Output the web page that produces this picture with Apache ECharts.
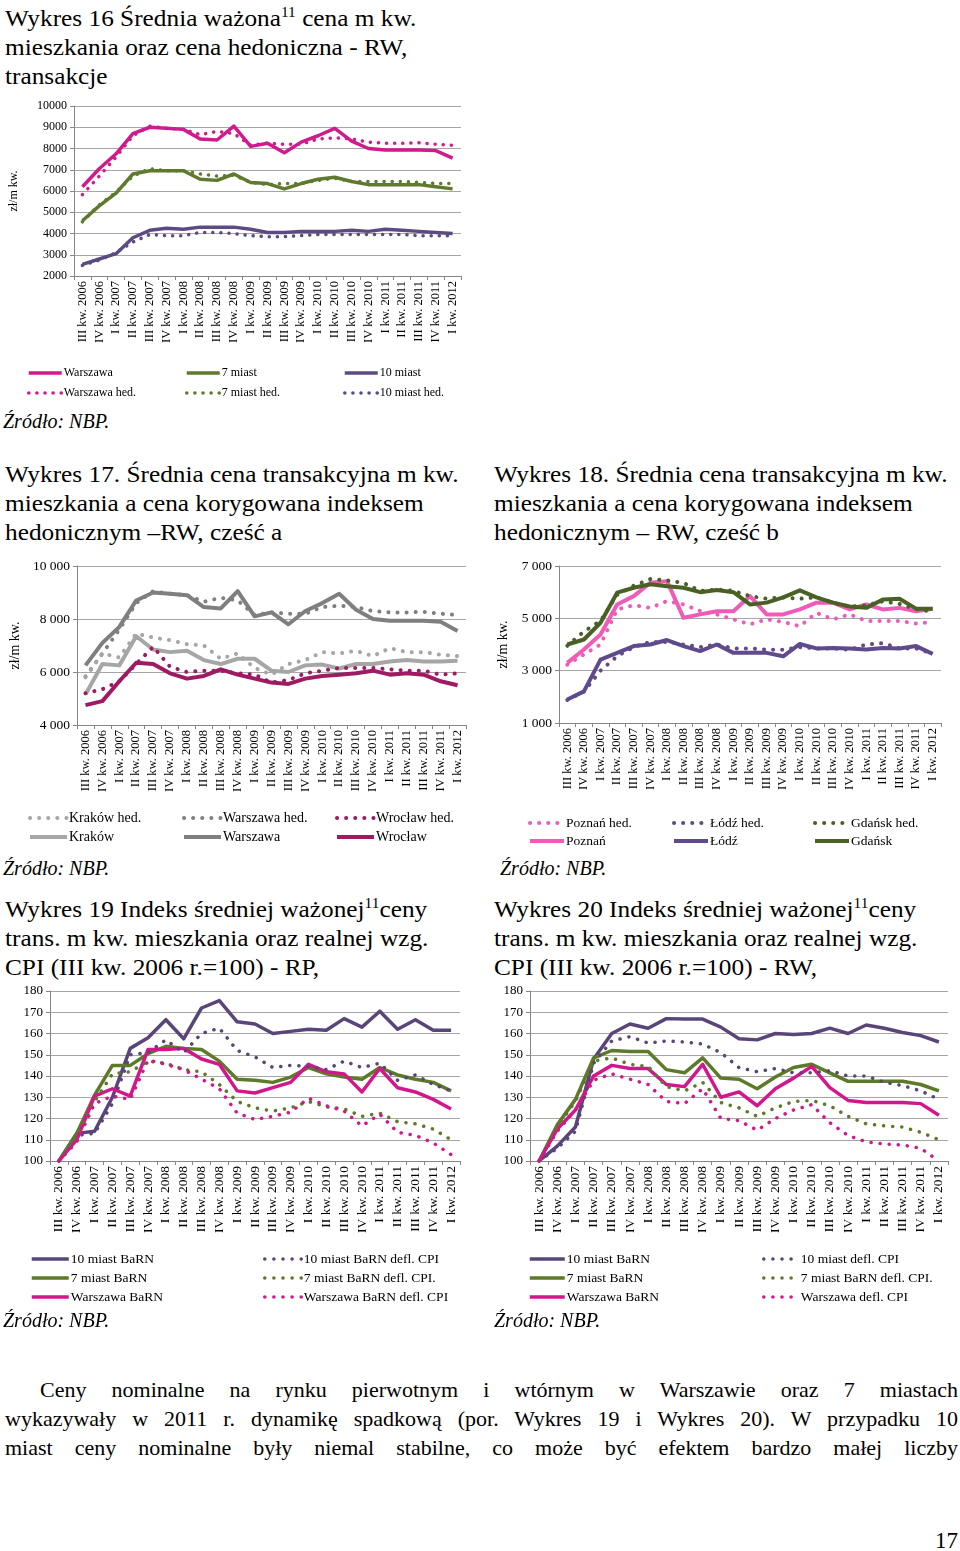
<!DOCTYPE html>
<html>
<head>
<meta charset="utf-8">
<script src="https://cdn.jsdelivr.net/npm/echarts@6/dist/echarts.min.js"></script>
<style>
  html, body { margin: 0; padding: 0; background: #fff; }
  body { width: 960px; height: 1551px; position: relative; overflow: hidden; font-family: 'Liberation Serif', 'Times New Roman', serif; color: #000; }
  .title { position: absolute; font-size: 23px; line-height: 29px; white-space: nowrap; transform: scaleX(1.1); transform-origin: left top; }
  .title sup { font-size: 14px; vertical-align: 9px; line-height: 0; }
  .src { position: absolute; font-size: 20px; font-style: italic; line-height: 24px; white-space: nowrap; }
  .chart { position: absolute; }
  .body { position: absolute; left: 5px; width: 953px; font-size: 22px; line-height: 29px; }
  .body div { text-align: justify; text-align-last: justify; white-space: nowrap; }
  .pg { position: absolute; right: 2px; top: 1527px; font-size: 23px; line-height: 28px; }
</style>
</head>
<body>
<div class="title" style="left:5px; top:4px;">Wykres 16 Średnia ważona<sup>11</sup> cena m kw.<br>mieszkania oraz cena hedoniczna - RW,<br>transakcje</div>
<div class="chart" id="c16" style="left:0; top:95px; width:475px; height:310px;"></div>
<div class="src" style="left:3px; top:409px;">Źródło: NBP.</div>

<div class="title" style="left:5px; top:460px;">Wykres 17. Średnia cena transakcyjna m kw.<br>mieszkania a cena korygowana indeksem<br>hedonicznym –RW, cześć a</div>
<div class="title" style="left:494px; top:460px;">Wykres 18. Średnia cena transakcyjna m kw.<br>mieszkania a cena korygowana indeksem<br>hedonicznym – RW, cześć b</div>
<div class="chart" id="c17" style="left:0; top:550px; width:475px; height:300px;"></div>
<div class="chart" id="c18" style="left:480px; top:550px; width:480px; height:300px;"></div>
<div class="src" style="left:3px; top:856px;">Źródło: NBP.</div>
<div class="src" style="left:500px; top:856px;">Źródło: NBP.</div>

<div class="title" style="left:5px; top:895px;">Wykres 19 Indeks średniej ważonej<sup>11</sup>ceny<br>trans. m kw. mieszkania oraz realnej wzg.<br>CPI (III kw. 2006 r.=100) - RP,</div>
<div class="title" style="left:494px; top:895px;">Wykres 20 Indeks średniej ważonej<sup>11</sup>ceny<br>trans. m kw. mieszkania oraz realnej wzg.<br>CPI (III kw. 2006 r.=100) - RW,</div>
<div class="chart" id="c19" style="left:0; top:980px; width:475px; height:330px;"></div>
<div class="chart" id="c20" style="left:480px; top:980px; width:480px; height:330px;"></div>
<div class="src" style="left:3px; top:1308px;">Źródło: NBP.</div>
<div class="src" style="left:494px; top:1308px;">Źródło: NBP.</div>

<div class="body" style="top:1375px;">
  <div style="padding-left:35px;">Ceny nominalne na rynku pierwotnym i wtórnym w Warszawie oraz 7 miastach</div>
  <div>wykazywały w 2011 r. dynamikę spadkową (por. Wykres 19 i Wykres 20). W przypadku 10</div>
  <div>miast ceny nominalne były niemal stabilne, co może być efektem bardzo małej liczby</div>
</div>
<div class="pg">17</div>

<script>
// ---------- categories ----------
const quarters = ['III kw. 2006','IV kw. 2006','I kw. 2007','II kw. 2007','III kw. 2007','IV kw. 2007',
  'I kw. 2008','II kw. 2008','III kw. 2008','IV kw. 2008','I kw. 2009','II kw. 2009','III kw. 2009','IV kw. 2009',
  'I kw. 2010','II kw. 2010','III kw. 2010','IV kw. 2010','I kw. 2011','II kw. 2011','III kw. 2011','IV kw. 2011','I kw. 2012'];

// ---------- Wykres 16 (zł/m kw.) ----------
const w16_warszawa    = [6200,7050,7750,8700,9000,8950,8900,8450,8400,9050,8100,8250,7800,8300,8600,8950,8350,8000,7930,7930,7930,7900,7550];
const w16_warszawaHed = [5830,6700,7600,8600,9050,8950,8900,8650,8800,8700,8150,8250,8200,8200,8450,8500,8450,8300,8250,8250,8270,8200,8150];
const w16_7miast      = [4600,5300,5900,6800,6950,6950,6950,6550,6500,6800,6400,6350,6100,6350,6550,6650,6450,6300,6300,6300,6300,6200,6100];
const w16_7miastHed   = [4550,5350,5950,6700,7050,6950,6950,6800,6700,6750,6400,6300,6350,6350,6500,6600,6450,6450,6450,6450,6400,6350,6350];
const w16_10miast     = [2550,2800,3050,3800,4150,4250,4200,4300,4300,4300,4200,4050,4050,4100,4100,4100,4150,4100,4200,4150,4100,4050,4000];
const w16_10miastHed  = [2500,2750,3100,3600,3950,3900,3900,4050,4050,4000,3900,3850,3850,3900,3950,3950,3950,3950,3950,3950,3900,3900,3900];
const w16_ticks = {min: 2000, max: 10000, interval: 1000};

// ---------- Wykres 17 ----------
const w17_krakowHed   = [5800,6700,6550,7450,7300,7200,7050,7000,6500,6700,6150,5900,6300,6450,6750,6700,6800,6600,6900,6750,6750,6650,6600];
const w17_krakow      = [5150,6300,6250,7350,6850,6750,6800,6450,6300,6500,6500,6050,6000,6250,6280,6130,6300,6300,6400,6450,6400,6400,6420];
const w17_warszawaHed = [5830,6700,7600,8600,9050,8950,8900,8650,8800,8700,8150,8250,8200,8200,8450,8500,8450,8300,8250,8250,8270,8200,8150];
const w17_warszawa    = [6250,7100,7700,8700,9000,8950,8900,8450,8400,9050,8100,8250,7800,8300,8600,8950,8350,8000,7930,7930,7930,7900,7550];
const w17_wroclawHed  = [5200,5350,5650,6300,6950,6200,6000,6050,6050,5950,5900,5600,5700,5950,6050,6150,6150,6150,6100,6050,6050,5900,5950];
const w17_wroclaw     = [4750,4900,5650,6350,6300,5950,5750,5850,6100,5900,5750,5600,5550,5750,5850,5900,5950,6050,5900,5950,5900,5650,5500];
const w17_ticks = {min: 4000, max: 10000, interval: 2000};

// ---------- Wykres 18 ----------
const w18_poznanHed   = [3230,3620,4000,5340,5500,5400,5660,5530,5280,5150,4960,4770,4960,4860,4700,5210,4960,5150,4900,4900,4900,4800,4860];
const w18_poznan      = [3300,3810,4380,5530,5850,6360,6420,5020,5150,5270,5270,5850,5150,5150,5340,5600,5600,5340,5530,5340,5400,5270,5370];
const w18_lodzHed     = [1880,2200,3000,3550,3900,4100,4100,4000,3900,4000,3850,3850,3800,3800,3900,3850,3850,3800,4000,4050,3850,3850,3650];
const w18_lodz        = [1900,2210,3420,3680,3940,4000,4170,3940,3750,4000,3680,3680,3680,3550,4020,3850,3870,3850,3810,3870,3850,3940,3640];
const w18_gdanskHed   = [3950,4500,4900,5900,6250,6500,6450,6350,6050,6100,6050,5850,5750,5800,5750,5800,5600,5450,5500,5650,5550,5350,5250];
const w18_gdansk      = [4000,4190,4830,5980,6170,6300,6230,6170,6000,6080,6000,5530,5600,5800,6070,5800,5600,5450,5400,5720,5750,5370,5370];
const w18_ticks = {min: 1000, max: 7000, interval: 2000};

// ---------- Wykres 19 (index) ----------
const w19_10miast     = [100,113,114,130,153,158,166.5,157.5,172,175.5,165.5,164.5,160,161,162,161.5,167,163,170.5,162,166.5,161.5,161.5];
const w19_7miast      = [100,113,131,145,145,150.5,154,153,152.5,147,138.5,138,137,139.5,144,141,139.5,138.5,144,140.5,138.5,137,133];
const w19_warszawa    = [100,110,130.5,134,130.5,152.5,152.5,153,148,145.5,133,132,134.5,137,145.5,142,141,132.5,143.5,134.5,132.5,129,124.5];
const w19_10miastCPI  = [100,112,113,127,150,151,157,151,160,162.5,152,149,144,145,144.5,143,147,144,146,138,140.5,136,133];
const w19_7miastCPI   = [100,112,128,141,142,147,146,143,142,136,128,125,123.5,125,128,125.5,124.5,121,122.5,118.5,117.5,115,110];
const w19_warszawaCPI = [100,109,127,130.5,129,147.5,145.5,143,138.5,134,122.5,119.5,121,123,129.5,126,123.5,116.5,122,113.5,112,108.5,103];

// ---------- Wykres 20 (index) ----------
const w20_10miast     = [100,107,116,148,160,164.5,162.5,167,166.8,166.8,163,157.5,157,160,159.5,160,162.5,160,164,162.5,160.5,159,156];
const w20_7miast      = [100,117,129,148.5,152,151.5,151.5,143,141.5,148.5,139,138.5,134,139.5,144,145.5,141.5,137.5,137.5,137.5,137.5,136,133];
const w20_warszawa    = [100,115,124,140,145,143.5,143.5,136,135,145.5,130,132.5,126,134,139,144.5,134.5,128.5,127.5,127.5,127.5,127,121.5];
const w20_10miastCPI  = [100,106,114,146,156.5,158.5,155.5,156.5,156,155,151,144,142,143.5,141.5,141.5,142.5,140,140,137,135.5,133,129];
const w20_7miastCPI   = [100,116,128,147,148.5,145.5,144.5,135,133,137,127.5,125,121,125,128,128.5,126,121,117.5,116.5,116,113.5,110];
const w20_warszawaCPI = [100,114,124,138,141,138.5,136,128,127,134,120,119,114.5,120,124,126.5,118,112,109,108,107.5,106,100];
const idx_ticks = {min: 100, max: 180, interval: 10};

// ---------- helpers ----------
const FONT = "'Liberation Serif', 'Times New Roman', serif";
const AX = '#868686';
const GRIDC = '#a6a6a6';
const spaced = v => String(v).replace(/\B(?=(\d{3})+(?!\d))/g, ' ');

function line(name, data, color, width, dotted, gap) {
  return {
    type: 'line', name, data, symbol: 'none', showSymbol: false, silent: true,
    itemStyle: { color },
    lineStyle: dotted
      ? { color, width: width, type: [0.1, gap], cap: 'round' }
      : { color, width: width, type: 'solid', cap: 'butt', join: 'round' },
    z: dotted ? 3 : 2
  };
}

function legendCol(left, top, names, itemWidth, fontSize, gap, lw) {
  return {
    orient: 'vertical', left, top, padding: 0, itemGap: gap, itemWidth, itemHeight: 14,
    selectedMode: false, data: names,
    itemStyle: { opacity: 0 },
    lineStyle: { width: lw },
    textStyle: { fontFamily: FONT, fontSize, color: '#000', padding: [0, 0, 0, -3] }
  };
}

function build(c) {
  return {
    animation: false,
    grid: c.grid,
    xAxis: {
      type: 'category', data: quarters, boundaryGap: true,
      axisLine: { lineStyle: { color: AX } },
      axisTick: { show: true, length: 4, lineStyle: { color: AX } },
      axisLabel: { rotate: 90, interval: 0, fontFamily: FONT, fontSize: c.xFont, color: '#000', margin: 5 },
      splitLine: { show: false }
    },
    yAxis: {
      type: 'value', min: c.ticks.min, max: c.ticks.max, interval: c.ticks.interval,
      axisLine: { show: true, lineStyle: { color: AX } },
      axisTick: { show: true, length: 4, lineStyle: { color: AX } },
      splitLine: { lineStyle: { color: GRIDC, width: 1 } },
      axisLabel: { fontFamily: FONT, fontSize: c.yFont, color: '#000', margin: 7, formatter: c.fmt || (v => String(v)) },
      name: c.yName || '', nameLocation: 'middle', nameGap: c.nameGap || 40,
      nameTextStyle: { fontFamily: FONT, fontSize: c.nameFont || 12, color: '#000' }
    },
    legend: c.legends,
    series: c.series
  };
}

// ---------- Wykres 16 ----------
const C16 = { pink: '#cf1b8d', green: '#5f7a2d', purple: '#5c4a82' };
echarts.init(document.getElementById('c16')).setOption(build({
  grid: { left: 70, top: 11, width: 391, height: 170 },
  ticks: w16_ticks, xFont: 12.5, yFont: 12, yName: 'zł/m kw.', nameGap: 54, nameFont: 12,
  legends: [
    legendCol(27, 272, ['Warszawa', 'Warszawa hed.'], 33, 12, 8, 3.5),
    legendCol(185, 272, ['7 miast', '7 miast hed.'], 33, 12, 8, 3.5),
    legendCol(343, 272, ['10 miast', '10 miast hed.'], 33, 12, 8, 3.5)
  ],
  series: [
    line('Warszawa', w16_warszawa, C16.pink, 3.5, false),
    line('7 miast', w16_7miast, C16.green, 3.5, false),
    line('10 miast', w16_10miast, C16.purple, 3.5, false),
    line('Warszawa hed.', w16_warszawaHed, C16.pink, 3.5, true, 8),
    line('7 miast hed.', w16_7miastHed, C16.green, 3.5, true, 8),
    line('10 miast hed.', w16_10miastHed, C16.purple, 3.5, true, 8)
  ]
}));

// ---------- Wykres 17 ----------
const C17 = { war: '#7f7f7f', kra: '#a6a6a6', wro: '#9e1a62' };
echarts.init(document.getElementById('c17')).setOption(build({
  grid: { left: 71, top: 16, width: 395, height: 159 },
  ticks: w17_ticks, xFont: 12.5, yFont: 13.5, fmt: spaced, yName: 'zł/m kw.', nameGap: 52, nameFont: 14,
  legends: [
    legendCol(28, 261, ['Kraków hed.', 'Kraków'], 37, 14, 5, 4),
    legendCol(182, 261, ['Warszawa hed.', 'Warszawa'], 37, 14, 5, 4),
    legendCol(335, 261, ['Wrocław hed.', 'Wrocław'], 37, 14, 5, 4)
  ],
  series: [
    line('Warszawa', w17_warszawa, C17.war, 4, false),
    line('Kraków', w17_krakow, C17.kra, 4, false),
    line('Wrocław', w17_wroclaw, C17.wro, 4, false),
    line('Warszawa hed.', w17_warszawaHed, C17.war, 4, true, 9),
    line('Kraków hed.', w17_krakowHed, C17.kra, 4, true, 9),
    line('Wrocław hed.', w17_wroclawHed, C17.wro, 4, true, 9)
  ]
}));

// ---------- Wykres 18 ----------
const C18 = { poz: '#f25ab8', lod: '#5f4b8b', gda: '#4a6024' };
echarts.init(document.getElementById('c18')).setOption(build({
  grid: { left: 79, top: 16, width: 382, height: 157 },
  ticks: w18_ticks, xFont: 12.5, yFont: 13.5, fmt: spaced, yName: 'zł/m kw.', nameGap: 47, nameFont: 14,
  legends: [
    legendCol(48, 266, ['Poznań hed.', 'Poznań'], 34, 13.5, 4, 4),
    legendCol(192, 266, ['Łódź hed.', 'Łódź'], 34, 13.5, 4, 4),
    legendCol(333, 266, ['Gdańsk hed.', 'Gdańsk'], 34, 13.5, 4, 4)
  ],
  series: [
    line('Poznań', w18_poznan, C18.poz, 4, false),
    line('Łódź', w18_lodz, C18.lod, 4, false),
    line('Gdańsk', w18_gdansk, C18.gda, 4, false),
    line('Poznań hed.', w18_poznanHed, C18.poz, 4, true, 9),
    line('Łódź hed.', w18_lodzHed, C18.lod, 4, true, 9),
    line('Gdańsk hed.', w18_gdanskHed, C18.gda, 4, true, 9)
  ]
}));

// ---------- Wykres 19 ----------
const C19 = { p: '#5a4579', g: '#5c7a28', m: '#d4168c' };
echarts.init(document.getElementById('c19')).setOption(build({
  grid: { left: 50, top: 11, width: 410, height: 170 },
  ticks: idx_ticks, xFont: 13.5, yFont: 13,
  legends: [
    legendCol(30, 272, ['10 miast BaRN', '7 miast BaRN', 'Warszawa BaRN'], 37, 13.5, 5, 3.5),
    legendCol(263, 272, ['10 miast BaRN defl. CPI', '7 miast BaRN defl. CPI.', 'Warszawa BaRN defl. CPI'], 37, 13.5, 5, 3.5)
  ],
  series: [
    line('10 miast BaRN', w19_10miast, C19.p, 3.5, false),
    line('7 miast BaRN', w19_7miast, C19.g, 3.5, false),
    line('Warszawa BaRN', w19_warszawa, C19.m, 3.5, false),
    line('10 miast BaRN defl. CPI', w19_10miastCPI, C19.p, 3.5, true, 9),
    line('7 miast BaRN defl. CPI.', w19_7miastCPI, C19.g, 3.5, true, 9),
    line('Warszawa BaRN defl. CPI', w19_warszawaCPI, C19.m, 3.5, true, 9)
  ]
}));

// ---------- Wykres 20 ----------
echarts.init(document.getElementById('c20')).setOption(build({
  grid: { left: 50, top: 11, width: 418, height: 170 },
  ticks: idx_ticks, xFont: 13.5, yFont: 13,
  legends: [
    legendCol(48, 272, ['10 miast BaRN', '7 miast BaRN', 'Warszawa BaRN'], 35, 13.5, 5, 3.5),
    legendCol(282, 272, ['10 miast defl. CPI', '7 miast BaRN defl. CPI.', 'Warszawa defl. CPI'], 35, 13.5, 5, 3.5)
  ],
  series: [
    line('10 miast BaRN', w20_10miast, C19.p, 3.5, false),
    line('7 miast BaRN', w20_7miast, C19.g, 3.5, false),
    line('Warszawa BaRN', w20_warszawa, C19.m, 3.5, false),
    line('10 miast defl. CPI', w20_10miastCPI, C19.p, 3.5, true, 9),
    line('7 miast BaRN defl. CPI.', w20_7miastCPI, C19.g, 3.5, true, 9),
    line('Warszawa defl. CPI', w20_warszawaCPI, C19.m, 3.5, true, 9)
  ]
}));
</script>
</body>
</html>
